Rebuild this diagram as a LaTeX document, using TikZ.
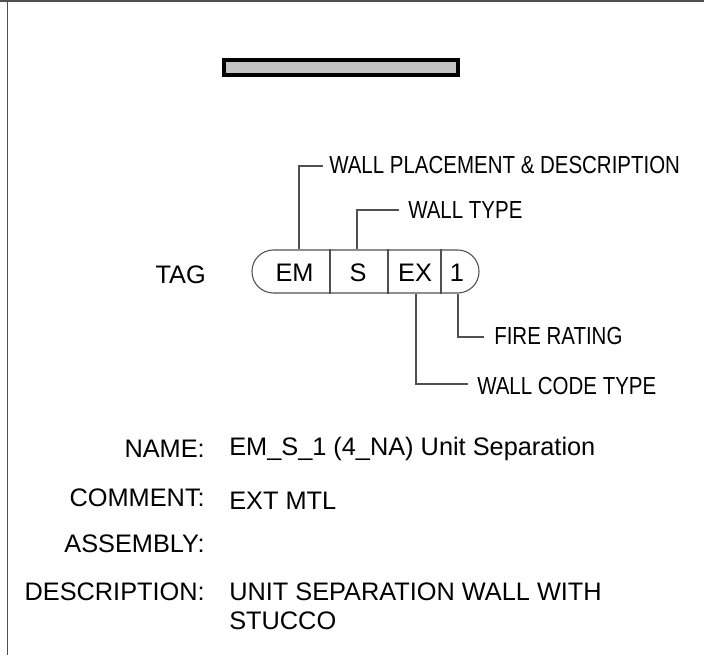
\documentclass[tikz,border=0pt]{standalone}
\usepackage{fontspec}
\setmainfont{Liberation Sans}
\newfontfamily\condfont[FakeStretch=0.83]{Liberation Sans}
\definecolor{rulegray}{HTML}{505050}
\definecolor{wallfill}{HTML}{C4C4C4}
\tikzset{
  frameline/.style={draw=rulegray,line width=1.1pt},
  thinline/.style={draw=rulegray,line width=0.8pt},
  cell/.style={inner sep=0pt,font=\fontsize{19pt}{19pt}\selectfont,text=black},
  leader/.style={inner xsep=0pt,inner ysep=0pt,anchor=west,font=\fontsize{18.5pt}{18.5pt}\selectfont\condfont,text=black},
  fieldname/.style={inner sep=0pt,anchor=east,font=\fontsize{19pt}{19pt}\selectfont,text=black},
  fieldvalue/.style={inner sep=0pt,anchor=west,align=left,font=\fontsize{19pt}{21.5pt}\selectfont,text=black},
}
\begin{document}
\begin{tikzpicture}[x=0.75pt,y=-0.75pt]
\useasboundingbox (0,0) rectangle (704,655);
\fill[white] (0,0) rectangle (704,655);
\coordinate (frameL) at (0,1);
\coordinate (frameR) at (704,1);
\coordinate (frameC) at (7.5,1);
\coordinate (frameB) at (7.5,655);
\path[frameline] (frameL) -- (frameR);
\path[frameline] (frameC) -- (frameB);
\node[draw=black,fill=wallfill,line width=3pt,minimum width=175.5pt,minimum height=11.25pt,inner sep=0pt] (wall) at (341,67.5) {};
\node[draw=rulegray,line width=0.8pt,rounded corners=16pt,minimum width=170.25pt,minimum height=32.25pt,inner sep=0pt] (pill) at (365.5,271.5) {};
\coordinate (d1) at (330,271.5);
\coordinate (d2) at (388,271.5);
\coordinate (d3) at (441,271.5);
\path[thinline] (d1|-pill.north) -- (d1|-pill.south);
\path[thinline] (d2|-pill.north) -- (d2|-pill.south);
\path[thinline] (d3|-pill.north) -- (d3|-pill.south);
\node[cell] (cEM) at (294.5,272.5) {EM};
\node[cell] (cS) at (358,272.5) {S};
\node[cell] (cEX) at (415,272.5) {EX};
\node[cell] (cOne) at (457,272.5) {1};
\node[fieldname] (tag) at (206,275) {TAG};
\node[leader] (lWP) at (329,165) {WALL PLACEMENT \& DESCRIPTION};
\node[leader] (lWT) at (408,210) {WALL TYPE};
\node[leader] (lFR) at (494,336) {FIRE RATING};
\node[leader] (lWC) at (477,386) {WALL CODE TYPE};
\coordinate (aEM) at (299,166);
\coordinate (eEM) at (323,166);
\coordinate (aS) at (357,210);
\coordinate (eS) at (399,210);
\coordinate (aOne) at (458,337);
\coordinate (eOne) at (484,337);
\coordinate (aEX) at (416,384);
\coordinate (eEX) at (468,384);
\path[thinline] (aEM|-pill.north) -- (aEM) -- (eEM);
\path[thinline] (aS|-pill.north) -- (aS) -- (eS);
\path[thinline] (aOne|-pill.south) -- (aOne) -- (eOne);
\path[thinline] (aEX|-pill.south) -- (aEX) -- (eEX);
\node[fieldname] (nName) at (205,449) {NAME:};
\node[fieldname] (nComment) at (205,498) {COMMENT:};
\node[fieldname] (nAssembly) at (205,544) {ASSEMBLY:};
\node[fieldname] (nDesc) at (205,592) {DESCRIPTION:};
\node[fieldvalue] (vName) at (229,449) {EM\_S\_1 (4\_NA) Unit Separation};
\node[fieldvalue] (vComment) at (229,501) {EXT MTL};
\node[fieldvalue,anchor=north west] (vDesc) at (229,583) {UNIT SEPARATION WALL WITH\\STUCCO};
\end{tikzpicture}
\end{document}
